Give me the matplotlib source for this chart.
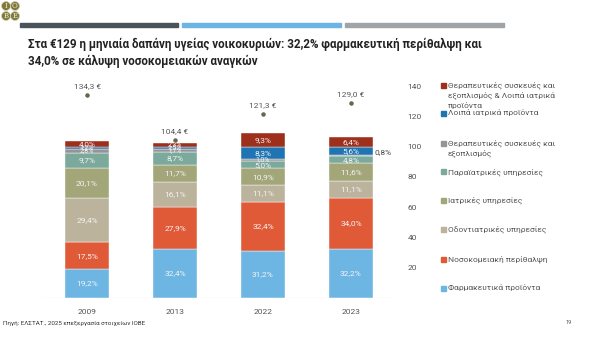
import numpy as np
import matplotlib
matplotlib.use('Agg')
import matplotlib.pyplot as plt
from matplotlib.patches import Rectangle, Ellipse

plt.rcParams['font.family'] = ['Roboto', 'DejaVu Sans']

years = ['2009', '2013', '2022', '2023']
pharma = [19.2, 32.4, 31.2, 32.2]
hosp = [17.5, 27.9, 32.4, 34.0]
dental = [29.4, 16.1, 11.1, 11.1]
medical = [20.1, 11.7, 10.9, 11.6]
para = [9.7, 8.7, 5.0, 4.8]
thera = [2.8, 1.7, 1.0, 0.8]
other = [1.2, 1.5, 8.3, 5.6]
thera_other = [4.0, 2.3, 9.3, 6.4]
totals = [134.3, 104.4, 121.3, 129.0]

series = [pharma, hosp, dental, medical, para, thera, other, thera_other]
names = ['Φαρμακευτικά προϊόντα', 'Νοσοκομειακή περίθαλψη', 'Οδοντιατρικές υπηρεσίες',
         'Ιατρικές υπηρεσίες', 'Παραϊατρικές υπηρεσίες',
         'Θεραπευτικές συσκευές και\nεξοπλισμός', 'Λοιπά ιατρικά προϊόντα',
         'Θεραπευτικές συσκευές και\nεξοπλισμός & Λοιπά ιατρικά\nπροϊόντα']
colors = ['#6db5e3', '#e05a38', '#bcb39d', '#a2a678', '#7ba99c', '#9a9396', '#1f74b3', '#9e2f1b']

W, H = 600, 337
fig = plt.figure(figsize=(6, 3.37), dpi=100)
fig.patch.set_facecolor('white')

def fy(y):
    return 1 - y / H

# header stripes
for x0, x1, c in [(20, 178, '#4b535a'), (182, 341, '#6cb4e4'), (345, 504, '#a1a4a7')]:
    fig.patches.append(Rectangle((x0 / W, fy(27)), (x1 - x0) / W, 4 / H,
                                 transform=fig.transFigure, color=c))

# logo
for (cx, cy, t) in [(6, 6, 'I'), (15, 6, 'O'), (6, 16, 'B'), (15, 16, 'E')]:
    fig.patches.append(Ellipse((cx / W, fy(cy)), 9 / W, 9 / H, transform=fig.transFigure,
                               facecolor='#7d7a3c', edgecolor='#d8d3b8', linewidth=0.5))
    fig.text(cx / W, fy(cy), t, color='#f2efe0', fontsize=5, ha='center', va='center',
             family='DejaVu Serif')

fig.text(28 / W, fy(38), 'Στα €129 η μηνιαία δαπάνη υγείας νοικοκυριών: 32,2% φαρμακευτική περίθαλψη και\n'
         '34,0% σε κάλυψη νοσοκομειακών αναγκών', fontsize=8.4, fontweight='bold',
         color='#222222', va='top', ha='left', linespacing=1.4)

ax = fig.add_axes([43 / W, 39 / H, (395 - 43) / W, (298 - 71) / H])
x = np.arange(len(years))
bottom = np.zeros(len(years))
for vals, c in zip(series, colors):
    v = np.array(vals)
    ax.bar(x, v, 0.5, bottom=bottom, color=c, edgecolor='white', linewidth=0.3)
    for i in range(len(years)):
        if years[i] == '2023' and vals is thera:
            ax.text(x[i] + 0.27, bottom[i] + v[i] / 2 + 2.5, '0,8%', fontsize=6,
                    color='#444444', ha='left', va='center')
            continue
        fs = 6 if vals[i] >= 3 else 5
        ax.text(x[i], bottom[i] + v[i] / 2, f'{vals[i]:.1f}%'.replace('.', ','),
                fontsize=fs, color='#f4f4f4', ha='center', va='center')
    bottom += v

ax.scatter(x, totals, s=5, color='#6b654d', zorder=3)
for i, t in enumerate(totals):
    ax.text(x[i], t + 4, f'{t:.1f} €'.replace('.', ','), fontsize=6, color='#555555',
            ha='center', va='bottom')

ax.set_xlim(-0.5, 3.5)
ax.set_ylim(0, 150)
ax.set_xticks(x)
ax.set_xticklabels(years)
ax.yaxis.tick_right()
ax.set_yticks(range(20, 141, 20))
ax.tick_params(length=0, labelsize=6, colors='#555555', pad=8)
ax.tick_params(axis='y', pad=9)
for s in ax.spines.values():
    s.set_visible(False)
ax.axhline(0, color='#d9d9d9', linewidth=0.8)

# legend
ly = [85, 113, 143, 172, 200, 229, 259, 288]
for yy, n, c in zip(ly, names[::-1], colors[::-1]):
    fig.patches.append(Rectangle((441 / W, fy(yy + 2.5)), 5 / W, 5 / H,
                                 transform=fig.transFigure, color=c))
    fig.text(448 / W, fy(yy - 4), n, fontsize=6, color='#555555', va='top', ha='left',
             linespacing=1.45)

fig.text(3 / W, fy(321), 'Πηγή: ΕΛΣΤΑΤ., 2025 επεξεργασία στοιχείων ΙΟΒΕ', fontsize=4.5,
         color='#333333', va='top')
fig.text(565 / W, fy(320), '19', fontsize=4, color='#555555', va='top')

fig.savefig('out.png', dpi=100)
